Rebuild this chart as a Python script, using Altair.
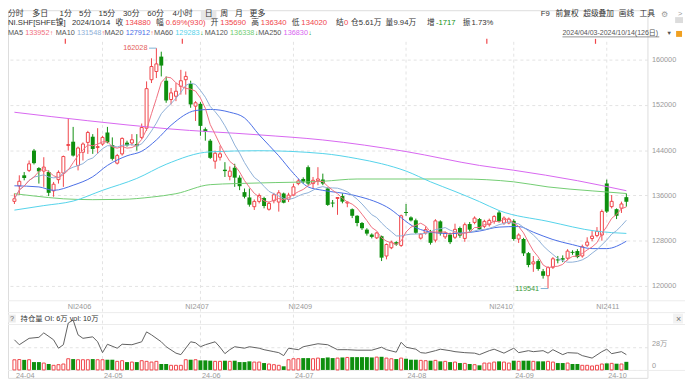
import altair as alt
import pandas as pd

# ---------------- data ----------------
opens = [134950,137680,139550,140420,143920,140830,140300,140130,136810,138790,
         139950,144850,145490,141300,143630,145370,146370,144500,145080,147120,
         144910,141700,143340,145320,145260,145080,146250,147880,156450,157900,
         160530,156270,152950,153530,155280,156450,155690,151780,152190,147700,
         145670,142050,142750,140540,139370,140890,139140,136580,135640,134010,
         134940,135530,133550,135060,134830,136340,135290,136050,138090,138910,
         140990,138090,138600,138800,137230,134700,135490,135890,134670,133560,
         132400,131120,129950,129080,128500,128790,125290,126750,127740,127160,
         133050,132110,131600,128450,129370,129500,128100,131410,128670,129080,
         128600,130240,128400,130940,131230,131820,130540,130830,131410,132980,
         131120,131120,131500,128300,128300,125800,123900,124400,122600,121800,
         123300,124650,124900,124900,126000,126170,125300,127200,128380,128900,
         129000,138110,134020,133570,133750,135690]
highs = [136340,139550,140130,142170,144210,141000,142750,140420,138380,140420,
         143040,149630,148110,144620,145370,147410,146830,147880,146540,148110,
         146250,143340,146250,145670,146830,146830,148700,156150,160230,162028,
         161400,157030,154990,155860,158190,157900,156270,152660,152500,148000,
         145960,143920,144790,141880,141120,141590,139550,137220,137220,135290,
         136340,135760,134890,136460,136930,136500,136460,138090,138900,139200,
         141300,139260,140990,139850,137410,135190,135700,136360,134950,133700,
         132510,131300,130200,129300,129500,128900,127500,128000,127900,132600,
         134490,132300,131900,129300,130540,129900,131800,131600,129600,129400,
         131000,130500,131200,131300,132300,132000,131700,131900,132500,133300,
         132300,132100,131800,129300,128500,126000,125290,124700,123000,123500,
         125100,125300,125400,126500,126300,126500,127300,128600,129700,130400,
         133500,138800,136070,133700,134900,136340]
lows = [134480,136050,138670,140130,141470,138090,137510,135880,135760,138090,
        137510,143920,142870,140420,142170,143340,143340,143340,144790,145200,
        142170,141470,143040,144620,144790,143920,145960,147410,155860,156740,
        157030,152370,152080,152660,153820,153820,151490,149160,146540,145670,
        142460,140710,142170,139260,138670,137510,136930,135470,134010,133430,
        134590,133720,133310,134600,133140,134600,134830,135940,137800,138100,
        137800,137220,137800,137810,134150,133910,132570,134600,133910,131990,
        130540,129900,128900,128400,128300,124400,124700,126500,127100,126900,
        132400,131400,129200,128200,129080,127300,127700,128900,128300,127400,
        128300,128500,127800,129600,130900,129900,130200,130500,131000,131200,
        130800,130900,128000,127600,125300,123300,122490,122700,121300,119541,
        123000,124000,124200,124500,125500,124900,125000,126900,127900,128600,
        128000,132900,133700,131820,132900,134020]
closes = [135410,138500,139080,141580,141700,140250,141000,136460,137980,140070,
          142870,144970,143040,144380,145080,147120,144210,144600,146250,145370,
          142460,143040,146070,144850,145840,144700,148000,154870,158780,159240,
          158950,152780,154120,154410,156270,157030,152080,152370,148290,147240,
          142640,143450,143340,140300,140300,139140,137630,135760,134360,134940,
          135990,134130,134600,136110,136460,134710,136050,137510,138560,138440,
          138090,138670,138900,138100,134320,134600,135600,134900,134800,132400,
          131120,130200,129250,128670,129370,125000,127330,127740,127330,132400,
          132900,131580,129400,129150,129950,127620,131500,129300,129370,127740,
          130000,128900,130830,129950,131990,130000,131410,131580,132280,131410,
          131990,131820,128300,129000,125760,123700,124250,123000,121800,123250,
          124800,124550,124650,126160,125880,125100,126920,127750,128800,129660,
          133150,133150,134950,132400,134490,134880]
volumes = [125000,128000,124000,126000,97000,97000,85000,73000,57000,65000,
           73000,138000,134000,126000,126000,126000,134000,126000,126000,126000,
           126000,106000,114000,97000,97000,97000,114000,106000,97000,106000,
           73000,73000,57000,57000,57000,126000,126000,126000,118000,118000,
           114000,106000,106000,114000,106000,114000,97000,97000,106000,97000,
           97000,85000,73000,65000,57000,45000,126000,138000,138000,146000,
           146000,138000,146000,146000,154000,146000,146000,154000,154000,158000,
           158000,158000,158000,154000,158000,162000,146000,138000,134000,146000,
           138000,126000,126000,118000,114000,114000,118000,106000,106000,97000,
           97000,85000,81000,73000,65000,57000,85000,85000,97000,106000,
           97000,85000,114000,106000,114000,114000,106000,106000,106000,106000,
           97000,85000,85000,85000,73000,73000,57000,57000,49000,57000,
           73000,81000,81000,77000,73000,100000]
oi_idx = [0,1,3,5,6,8,9,10,11,12,13,14,16,17,18,19,21,22,24,26,27,28,30,31,33,34,36,37,38,39,
          41,42,43,44,45,47,48,50,51,53,54,55,56,58,59,61,62,64,66,68,70,73,75,76,78,79,
          80,82,83,84,86,87,89,90,92,94,95,97,98,100,102,103,105,106,108,109,110,112,113,
          115,116,118,120,121,122,124,125]
oi_val = [10.1,9.1,10.4,10.6,11.5,10.1,8.4,9.1,13.5,14.1,11.1,10.4,10.7,9.7,7.5,9.2,8.4,9.2,9.1,
          9.7,11.7,11.1,9.7,8.7,7.4,7.1,9.7,9.5,8.7,9.1,9.7,8.6,7.3,8.1,8.7,8.4,8.7,8.4,8.1,
          7.7,7.5,6.9,8.4,8.1,8.7,9.1,9.3,9.1,8.1,8.1,8.0,8.0,8.6,8.1,7.6,9.6,8.6,8.2,7.5,7.4,
          7.9,8.2,7.9,7.7,7.5,7.4,7.1,7.9,8.2,7.4,8.4,7.5,7.9,7.7,7.9,7.4,8.1,7.1,7.5,7.4,
          6.9,6.4,7.7,8.2,7.3,7.7,7.1]

ma20_idx = [0,5,8,12,16,19,23,26,29,32,37,40,44,47,50,54,57,60,63,69,76,82,86,89,95,99,103,106,110,114,118,121,125]
ma20_val = [137700,137500,136900,137800,139300,141300,143000,143800,145800,148400,151000,151200,150700,
            149700,146700,143000,139900,137500,136900,136100,134000,130300,129400,129250,129700,130400,
            130500,129500,128200,127300,126600,126600,127912]
ma60_idx = [0,6,12,18,25,31,40,50,63,70,75,80,85,90,95,99,109,119,125]
ma60_val = [133400,134200,135000,136900,139000,141500,143700,143900,143400,142500,141600,140300,138400,
            136700,134900,133330,131410,129660,129283]
ma120_idx = [0,4,10,16,22,28,33,40,50,63,70,91,102,109,118,125]
ma120_val = [136300,135900,135400,135250,135300,135700,136300,137900,138200,138500,138900,138900,138400,
             137500,136800,136338]
ma250_idx = [0,15,31,50,63,80,95,102,115,125]
ma250_val = [150700,149200,147800,146700,145800,143750,141300,140450,138600,136830]

price_ticks = [120000, 128000, 136000, 144000, 152000, 160000]
month_idx = [0, 18, 38, 57, 80, 102, 121]
month_lbl = ["24-04", "24-05", "24-06", "24-07", "24-08", "24-09", "24-10"]
contract_idx = [13.3, 37.3, 58.4, 99.4, 121.2]
contract_lbl = ["NI2406", "NI2407", "NI2409", "NI2410", "NI2411"]
flag_idx = [10.4, 34.3, 96.5, 118.7]

toolbar_left = ["分时", "多日", "1分", "5分", "15分", "30分", "60分", "4小时", "日", "周", "月", "更多"]
toolbar_left_x = [3, 28, 56, 76, 96, 121, 146, 172, 205, 221, 236, 251]
toolbar_right = ["F9", "前复权", "超级叠加", "画线", "工具"]
toolbar_right_x = [547, 562, 590, 626, 647]
quote_left = [("NI.SHF[SHFE镍]", "k"), ("2024/10/14", "k"), ("收", "k"), ("134880", "r"),
              ("幅", "k"), ("0.69%(930)", "r"), ("开", "k"), ("135690", "r"),
              ("高", "k"), ("136340", "r"), ("低", "k"), ("134020", "r")]
quote_right = [("结", "k", 340), ("0", "r", 348), ("仓", "k", 355), ("5.61万", "k", 363),
               ("量", "k", 390), ("9.94万", "k", 398), ("增", "k", 432), ("-1717", "g", 441),
               ("振", "k", 468), ("1.73%", "k", 477)]
ma_names = ["MA5", "MA10", "MA20", "MA60", "MA120", "MA250"]
ma_last = ["133952", "131548", "127912", "129283", "136338", "136830"]
ma_dir = ["↑", "↑", "↑", "↓", "↓", "↓"]
ma_name_x = [3, 52, 102, 153, 205, 260]

# ---------------- style ----------------
LAT = "Liberation Sans"
FONT = "Liberation Sans, Noto Sans CJK SC"
FS = 7.4
FQ = 7.8
RED = "#f0454a"
GREEN = "#0e8f0e"
TXT = "#333333"
GRAY = "#9a9a9a"
GRID = "#e3e3e3"
MA_COL = {"MA5": "#f07080", "MA10": "#8fb0d8", "MA20": "#4a6ee6",
          "MA60": "#54d2ea", "MA120": "#72cc72", "MA250": "#d866f0"}
COLMAP = {"k": TXT, "r": RED, "g": GREEN}
OFF = 8
W = 647
H = 372

def tw(s, size=FS):
    w = 0.0
    for ch in s:
        if ch.isdigit():
            w += 0.556
        elif ch in "./:[] ":
            w += 0.278
        elif ch in "()-":
            w += 0.333
        elif ch == "%":
            w += 0.889
        elif ch in "MW":
            w += 0.833
        elif ch in "I":
            w += 0.278
        elif ch.isupper():
            w += 0.69
        elif ord(ch) > 0x2E80:
            w += 1.0
        else:
            w += 0.55
    return w * size

def shift(x):
    # nudge left-side header items right of the 8px page margin
    return x + 5 * max(0.0, 1 - x / 345.0)

xs = alt.Scale(domain=[-0.3, 128.3], nice=False, zero=False)
ps = alt.Scale(domain=[120000, 160000], range=[287 - OFF, 58 - OFF], nice=False, zero=False)
vs = alt.Scale(domain=[0, 280000], range=[372 - OFF, 349 - OFF], nice=False, zero=False)
oscale = alt.Scale(domain=[6, 13], range=[362 - OFF, 327 - OFF], nice=False, zero=False)
X = alt.X("i:Q", scale=xs, axis=None)

df = pd.DataFrame({"i": range(len(closes)), "o": opens, "h": highs, "l": lows,
                   "c": closes, "v": volumes})
df["up"] = df["c"] >= df["o"]
df["bt"] = df[["o", "c"]].max(axis=1)
df["bb"] = df[["o", "c"]].min(axis=1)
small = (df["bt"] - df["bb"]) < 170
mid = (df["bt"] + df["bb"]) / 2
df.loc[small, "bt"] = mid[small] + 85
df.loc[small, "bb"] = mid[small] - 85
df["v0"] = 0

base = alt.Chart(df)
layers = []

# grids / axes
layers.append(alt.Chart(pd.DataFrame({"p": price_ticks})).mark_rule(opacity=0).encode(
    y=alt.Y("p:Q", scale=ps, axis=alt.Axis(orient="right", values=price_ticks, grid=True,
            gridDash=[3, 3], gridColor=GRID, domain=False, ticks=False, labelColor=GRAY,
            labelFontSize=FS, labelFont=LAT, labelPadding=4, format="d", title=None))))
layers.append(alt.Chart(pd.DataFrame({"v": [0, 280000]})).mark_rule(opacity=0).encode(
    y=alt.Y("v:Q", scale=vs, axis=alt.Axis(orient="right", values=[0, 280000], grid=True,
            gridDash=[3, 3], gridColor=GRID, domain=False, ticks=False, labelColor=GRAY,
            labelFontSize=FS, labelFont=FONT, labelPadding=4, labelBaseline="bottom",
            labelExpr="datum.value == 0 ? '0' : '28万'", title=None))))
mdf = pd.DataFrame({"i": month_idx, "lbl": month_lbl})
layers.append(alt.Chart(mdf).transform_filter("datum.i > 0").mark_rule(
    strokeDash=[3, 3], color=GRID).encode(x=X, y=alt.value(40 - OFF), y2=alt.value(372 - OFF)))

# panel separators
sep = pd.DataFrame({"y": [302 - OFF, 314 - OFF, 326 - OFF, 372.5 - OFF]})
layers.append(alt.Chart(sep).mark_rule(color="#ececec").encode(
    y=alt.Y("y:Q", scale=None), x=alt.value(0), x2=alt.value(W + 38)))

# candles
Y = lambda f: alt.Y(f, scale=ps, axis=None)
layers.append(base.transform_filter("datum.up").mark_rule(color=RED, strokeWidth=1).encode(
    x=X, y=Y("l:Q"), y2="h:Q"))
layers.append(base.transform_filter("!datum.up").mark_rule(color=GREEN, strokeWidth=1).encode(
    x=X, y=Y("l:Q"), y2="h:Q"))
layers.append(base.transform_filter("datum.up").mark_bar(size=3, fill="white", stroke=RED,
    strokeWidth=1).encode(x=X, y=Y("bb:Q"), y2="bt:Q"))
layers.append(base.transform_filter("!datum.up").mark_bar(size=4, color=GREEN).encode(
    x=X, y=Y("bb:Q"), y2="bt:Q"))

# moving averages
def ma_layer(idx, vals, name):
    d = pd.DataFrame({"i": idx, "m": vals})
    return alt.Chart(d).mark_line(color=MA_COL[name], strokeWidth=1, interpolate="monotone").encode(
        x=X, y=Y("m:Q"))
layers.append(ma_layer(ma250_idx, ma250_val, "MA250"))
layers.append(ma_layer(ma120_idx, ma120_val, "MA120"))
layers.append(ma_layer(ma60_idx, ma60_val, "MA60"))
layers.append(ma_layer(ma20_idx, ma20_val, "MA20"))
layers.append(base.transform_window(m10="mean(c)", frame=[-9, 0], sort=[alt.SortField("i")])
              .mark_line(color=MA_COL["MA10"], strokeWidth=1).encode(x=X, y=Y("m10:Q")))
layers.append(base.transform_window(m5="mean(c)", frame=[-4, 0], sort=[alt.SortField("i")])
              .mark_line(color=MA_COL["MA5"], strokeWidth=1).encode(x=X, y=Y("m5:Q")))

# extreme markers
hi_i = int(df["h"].idxmax()); lo_i = int(df["l"].idxmin())
ext = pd.DataFrame({"i": [hi_i, lo_i], "p": [highs[hi_i], lows[lo_i]],
                    "t": [str(highs[hi_i]), str(lows[lo_i])], "k": ["hi", "lo"]})
layers.append(alt.Chart(ext).transform_calculate(i0="datum.i - 1.5").mark_rule(
    color="#7fb2d6", strokeWidth=1).encode(x=alt.X("i0:Q", scale=xs, axis=None), x2="i:Q", y=Y("p:Q")))
layers.append(alt.Chart(ext).mark_text(align="right", dx=-9, fontSize=FS, font=LAT).encode(
    x=X, y=Y("p:Q"), text="t:N",
    color=alt.Color("k:N", scale=alt.Scale(domain=["hi", "lo"], range=["#e4605a", "#3a9a3a"]), legend=None)))

# flags at top
layers.append(alt.Chart(pd.DataFrame({"i": flag_idx})).mark_rule(color=RED, strokeWidth=1.2).encode(
    x=X, y=alt.value(37 - OFF), y2=alt.value(42 - OFF)))

# contract labels and month labels
layers.append(alt.Chart(pd.DataFrame({"i": contract_idx, "t": contract_lbl})).mark_text(
    fontSize=FS, font=LAT, color=GRAY).encode(x=X, y=alt.value(308 - OFF), text="t:N"))
layers.append(alt.Chart(mdf).mark_text(align="left", dx=1.5, fontSize=FS, font=LAT, color=GRAY).encode(
    x=X, y=alt.value(378 - OFF), text="lbl:N"))

# volume + open interest
V = lambda f: alt.Y(f, scale=vs, axis=None)
layers.append(base.transform_filter("datum.up").mark_bar(size=3, fill="white", stroke=RED,
    strokeWidth=1).encode(x=X, y=V("v0:Q"), y2="v:Q"))
layers.append(base.transform_filter("!datum.up").mark_bar(size=4, color=GREEN).encode(
    x=X, y=V("v0:Q"), y2="v:Q"))
layers.append(alt.Chart(pd.DataFrame({"i": oi_idx, "oi": oi_val})).mark_line(
    color="#606060", strokeWidth=1).encode(x=X, y=alt.Y("oi:Q", scale=oscale, axis=None)))

# ---------------- header texts ----------------
rows = []  # page x, page y, text, colour, size
for t, x in zip(toolbar_left, toolbar_left_x):
    rows.append((shift(x), 12, t, TXT, 8.0))
for t, x in zip(toolbar_right, toolbar_right_x):
    rows.append((x, 12, t, TXT, 7.8))
rows.append((669, 12, "⚙", GRAY, 8.5))
rows.append((686, 12, ">", GRAY, 7.6))

# quote row: sequential layout between the left edge and "结"
start, end = shift(3), 336.0
widths = [tw(t, FQ) for t, _ in quote_left]
n_big = 7
small_gap = 2.0
n_small = 5
big_gap = (end - start - sum(widths) - small_gap * n_small) / n_big
x = start
for k, (t, c) in enumerate(quote_left):
    rows.append((x, 21, t, COLMAP[c], FQ))
    x += widths[k]
    if k in (0, 1):
        x += big_gap
    elif k % 2 == 0:
        x += small_gap
    else:
        x += big_gap
for t, c, px in quote_right:
    rows.append((px, 21, t, COLMAP[c], FQ))

# moving-average legend row
for nm, val, dr, px in zip(ma_names, ma_last, ma_dir, ma_name_x):
    x0 = shift(px)
    rows.append((x0, 31, nm, "#555555", FS))
    x1 = x0 + tw(nm) + 2
    rows.append((x1, 31, val, MA_COL[nm], FS))
    rows.append((x1 + tw(val) + 0.5, 31, dr, RED if dr == "↑" else GREEN, 6.5))

rows.append((569, 31, "2024/04/03-2024/10/14(126日)", "#555555", 7.1))
rows.append((674, 31, "▼", "#555555", 6.0))
rows.append((shift(5), 320, "?", "#666666", FS))
rows.append((shift(16), 320, "持仓量 OI: 6万 vol: 10万", TXT, FS))
rows.append((684, 320, "×", "#777777", 9))

hdf = pd.DataFrame(rows, columns=["x", "y", "t", "col", "fs"])
hdf["x"] = hdf["x"] - OFF
hdf["y"] = hdf["y"] - OFF

deco = pd.DataFrame({
    "x": [shift(201) - OFF, 683 - OFF, 684 - OFF, shift(3) - OFF, 681 - OFF],
    "x2": [shift(217) - OFF, 691 - OFF, 690 - OFF, shift(11) - OFF, 691 - OFF],
    "y": [0, 15 - OFF, 29 - OFF, 316 - OFF, 315 - OFF],
    "y2": [10, 21 - OFF, 35 - OFF, 324 - OFF, 325 - OFF],
    "f": ["#e6e6e6", "#dcdcdc", "#f0a020", "#ececec", "#f2f2f2"]})
layers.append(alt.Chart(deco).mark_rect().encode(
    x=alt.X("x:Q", scale=None), x2="x2:Q", y=alt.Y("y:Q", scale=None), y2="y2:Q",
    color=alt.Color("f:N", scale=None)))
# underline of the date range
layers.append(alt.Chart(pd.DataFrame({"x": [569 - OFF], "x2": [667 - OFF], "y": [35 - OFF]})).mark_rule(
    color="#777777", strokeWidth=0.8).encode(x=alt.X("x:Q", scale=None), x2="x2:Q", y=alt.Y("y:Q", scale=None)))

layers.append(alt.Chart(hdf).mark_text(align="left", baseline="middle", font=FONT).encode(
    x=alt.X("x:Q", scale=None), y=alt.Y("y:Q", scale=None), text="t:N",
    color=alt.Color("col:N", scale=None), size=alt.Size("fs:Q", scale=None)))

chart = alt.layer(*layers).resolve_scale(y="independent", color="independent").properties(
    width=W, height=H, autosize=alt.AutoSizeParams(type="none"),
    padding={"left": 0, "top": 0, "right": 38, "bottom": 5},
).configure_view(stroke=None).configure(background="white")

chart.save("out.html", embed_options={"renderer": "svg", "actions": False})
